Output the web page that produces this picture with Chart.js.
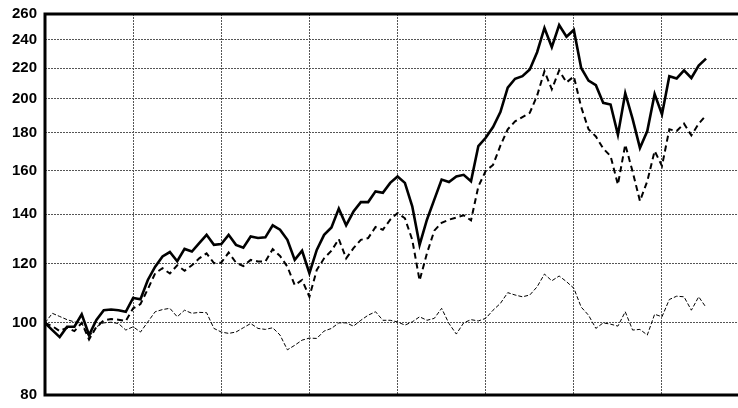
<!DOCTYPE html>
<html>
<head>
<meta charset="utf-8">
<script src="https://cdn.jsdelivr.net/npm/chart.js@4.4.1/dist/chart.umd.min.js"></script>
<style>
  html, body { margin: 0; padding: 0; background: #fff; }
  #wrap { width: 738px; height: 408px; position: relative; }
</style>
</head>
<body>
<div id="wrap"><canvas id="chart"></canvas></div>
<script>
// monthly values, all three series rebased to 100 at the start
const solid = [
  100, 97.8, 95.7, 98.8, 98.8, 102.7, 96.3, 100.9, 104, 104.2,
  104, 103.5, 108, 107.6, 114.2, 119, 122.8, 124.5, 121, 125.7,
  124.7, 128, 131.3, 127.3, 127.6, 131.3, 127.3, 126.2, 130.6, 130,
  130.3, 135.2, 133.4, 129.3, 121.5, 125, 116.6, 125.3, 131.3, 134.3,
  142.4, 135.2, 141.1, 145.3, 145.3, 150.2, 149.5, 154.2, 157.3, 154.2,
  143.4, 127.3, 137.6, 146.4, 155.8, 154.6, 157.3, 158.1, 155, 172.8,
  177.3, 183.3, 192, 207, 212.8, 214.5, 219, 231, 249, 234.7,
  251.3, 242.3, 247.5, 220, 211.6, 208.6, 197.5, 196.5, 179, 203.5,
  188, 171.8, 181, 203, 190.6, 214.5, 213, 218.4, 213.3, 221.7,
  226.5
];
const dashed = [
  100, 99, 97.5, 98.5, 97.5, 100, 95, 98.8, 100.8, 101.2,
  101, 100.6, 104.6, 106, 111, 116.6, 118.4, 116.5, 119.5, 117.5,
  119.5, 122.1, 124, 120.3, 120.5, 124.3, 120.5, 119.2, 121.5, 120.9,
  120.9, 125.6, 123, 119, 112.4, 114.2, 108.4, 117.8, 122.1, 125,
  129.6, 122.1, 126, 129.3, 130, 134.5, 133.4, 137.6, 140.5, 138.2,
  129.3, 114, 124, 133, 136.3, 137.6, 138.5, 139.5, 137.3, 152.5,
  160, 163, 173, 182, 186.5, 189, 191.5, 202, 217.8, 206,
  218.3, 210.4, 214.3, 195, 182, 178, 171.5, 167.5, 153.4, 173.6,
  159.7, 145.8, 155, 170.2, 162.5, 182, 181, 185.2, 178.6, 185.2,
  190
];
const thin = [
  100, 103, 102, 101, 100.3, 99.8, 95.7, 98.8, 100, 100.2,
  99.8, 97.8, 98.8, 97.2, 100.3, 103.5, 104.2, 104.6, 101.9, 104,
  103, 103.3, 103.2, 98.3, 97.2, 96.8, 97.2, 98.5, 99.8, 98.3,
  98, 98.5, 96.3, 92, 93.3, 94.8, 95.4, 95.3, 97.5, 98.3,
  100, 100, 99, 100.8, 102.4, 103.5, 100.8, 100.8, 100.3, 99.3,
  100.3, 101.9, 100.8, 101.4, 104.6, 99.8, 96.6, 100, 101, 100.6,
  101.4, 104, 106.2, 109.8, 109, 108.4, 109, 111.8, 116.3, 113.9,
  115.6, 113.6, 111.3, 105, 102.4, 98.3, 100, 99.6, 99, 103.5,
  97.8, 98, 96.3, 102.7, 101.9, 107.5, 108.6, 108.4, 104, 108.4,
  104.9
];
const yTicks = [80, 100, 120, 140, 160, 180, 200, 220, 240, 260];
const yearMarks = [12, 24, 36, 48, 60, 72, 84];

const toPoints = arr => arr.map((v, i) => ({ x: i, y: v }));

const frame = {
  id: 'frame',
  afterDatasetsDraw(chart) {
    const { ctx, chartArea: a } = chart;
    ctx.save();
    ctx.strokeStyle = '#000';
    ctx.lineWidth = 3;
    ctx.beginPath();
    ctx.moveTo(chart.width + 5, a.top);
    ctx.lineTo(a.left, a.top);
    ctx.lineTo(a.left, a.bottom);
    ctx.lineTo(chart.width + 5, a.bottom);
    ctx.stroke();
    ctx.restore();
  }
};

new Chart(document.getElementById('chart'), {
  type: 'line',
  data: {
    datasets: [
      {
        data: toPoints(solid),
        borderColor: '#000',
        borderWidth: 2.6,
        pointRadius: 0,
        tension: 0
      },
      {
        data: toPoints(dashed),
        borderColor: '#000',
        borderWidth: 2,
        borderDash: [6, 4],
        pointRadius: 0,
        tension: 0
      },
      {
        data: toPoints(thin),
        borderColor: '#000',
        borderWidth: 1,
        borderDash: [4, 2],
        pointRadius: 0,
        tension: 0
      }
    ]
  },
  options: {
    responsive: true,
    maintainAspectRatio: false,
    animation: false,
    layout: { padding: { top: 14, bottom: 13, left: 0, right: 0 } },
    plugins: {
      legend: { display: false },
      tooltip: { enabled: false }
    },
    scales: {
      x: {
        type: 'linear',
        min: 0,
        max: 94.35,
        afterBuildTicks: scale => { scale.ticks = yearMarks.map(v => ({ value: v })); },
        afterFit: scale => { scale.height = 0; },
        ticks: { display: false },
        grid: { color: '#555', lineWidth: 1, drawTicks: false },
        border: { display: false, dash: [2, 1] }
      },
      y: {
        type: 'logarithmic',
        min: 80,
        max: 260,
        afterBuildTicks: scale => { scale.ticks = yTicks.map(v => ({ value: v })); },
        afterFit: scale => {
          scale.width = 45;
          scale.paddingTop = 0;
          scale.paddingBottom = 0;
        },
        ticks: {
          padding: 8,
          color: '#000',
          font: { family: 'Liberation Sans, Arial, sans-serif', size: 15, weight: 'bold' },
          callback: v => String(v)
        },
        grid: { color: '#555', lineWidth: 1, drawTicks: false },
        border: { display: false, dash: [2, 1] }
      }
    }
  },
  plugins: [frame]
});
</script>
</body>
</html>
